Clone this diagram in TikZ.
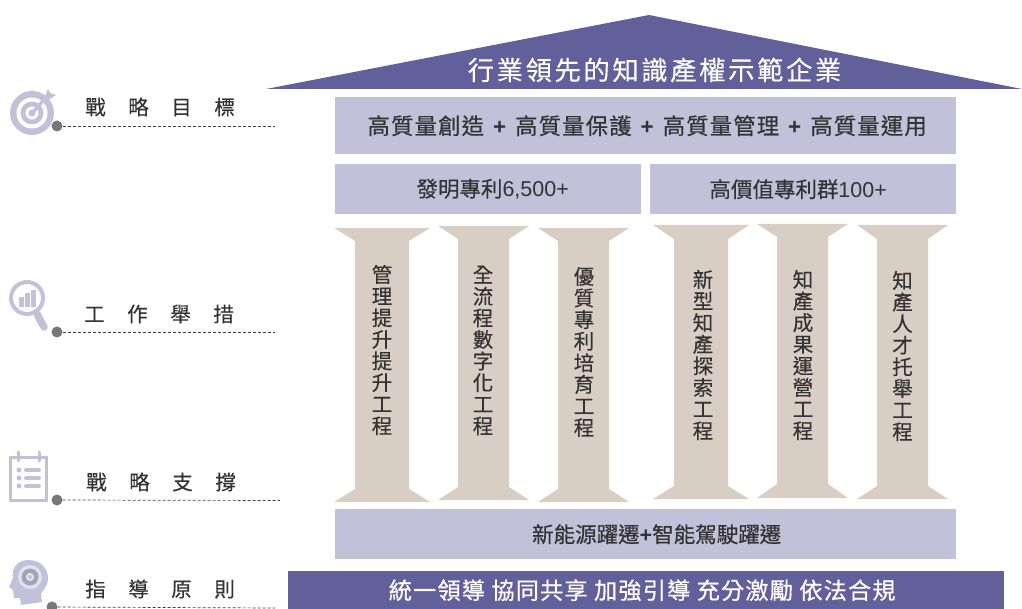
\documentclass[tikz,border=0pt]{standalone}
\usepackage{fontspec}
\setmainfont{Noto Sans CJK TC}
\newfontfamily\lat{Liberation Sans}
\newfontfamily\lspA[LetterSpace=10,FakeBold=0.25]{Noto Sans CJK TC}
\newfontfamily\lspB[LetterSpace=110,FakeBold=0.3]{Noto Sans CJK TC}
\newfontfamily\lspC[LetterSpace=5,FakeBold=0.5]{Noto Sans CJK TC}
\newfontfamily\plainb[FakeBold=0.3]{Noto Sans CJK TC}
\newfontfamily\heavy[FakeBold=0.6]{Noto Sans CJK TC}
\definecolor{roof}{HTML}{62609A}
\definecolor{lite}{HTML}{C3C1DA}
\definecolor{pill}{HTML}{D9CEC3}
\definecolor{ink}{HTML}{333333}
\definecolor{dotc}{HTML}{77767B}
\tikzset{
  x=1pt,y=-1pt,
  band/.style={fill=lite,draw=none,inner sep=0pt,anchor=north west,text=ink},
  darkband/.style={fill=roof,draw=none},
  pillarshape/.style={fill=pill,draw=none},
  pillartext/.style={text=ink,align=center,inner sep=0pt,font=\fontsize{20.5}{21.6}\plainb},
  tag/.style={text=ink,inner sep=0pt,font=\fontsize{20.5}{22}\lspB},
  leader/.style={draw=black!75,line width=0.7pt,dash pattern=on 3pt off 2pt},
  pin/.style={circle,fill=dotc,inner sep=0pt,minimum size=11pt},
  icon/.style={lite}
}
\newcommand{\pillar}[8]{% xl xr sl sr top ntop nbot bot
  \fill[pillarshape] (#1,#5) -- (#2,#5) -- (#4,#6) -- (#4,#7) -- (#2,#8) -- (#1,#8) -- (#3,#7) -- (#3,#6) -- cycle;
}
\newcommand{\plusb}[1]{\hspace{9pt}{\lat\bfseries +}\hspace{9pt}#1}
\begin{document}
\begin{tikzpicture}
\useasboundingbox (0,0) rectangle (1022,609);
\clip (0,0) rectangle (1022,609);
% roof
\fill[darkband] (266,89) -- (649,15) -- (1022,89) -- cycle;
\node[text=white,inner sep=0pt,font=\fontsize{26.3}{30}\lspA] (title) at (654.5,70) {行業領先的知識產權示範企業};
% boxes
\node[band,minimum width=621pt,minimum height=57pt,font=\fontsize{22.4}{24}\lspC] (goal) at (335,97) {\hspace{3pt}\raisebox{-1.5pt}{高質量創造\plusb{高質量保護}\plusb{高質量管理}\plusb{高質量運用}}};
\node[band,minimum width=306pt,minimum height=50pt,font=\fontsize{21.5}{24}\plainb] (patA) at (335,164) {\hspace{9pt}發明專利{\lat 6,500+}};
\node[band,minimum width=306pt,minimum height=50pt,font=\fontsize{21.5}{24}\plainb] (patB) at (650,164) {高價值專利群{\lat 100+}\kern10pt};
\node[band,minimum width=621pt,minimum height=50pt,font=\fontsize{21.5}{24}\heavy] (base) at (335,509) {\hspace{22pt}\raisebox{-1pt}{新能源躍遷{\lat\bfseries +}智能駕駛躍遷}};
\node[darkband,minimum width=716pt,minimum height=38pt,inner sep=0pt,anchor=north west,text=white,font=\fontsize{23.2}{24}\lspC] (rule) at (288,571) {統一領導 協同共享 加強引導 充分激勵 依法合規\kern8pt};
% pillars
\pillar{334}{430}{355}{409}{228}{241}{489}{502}
\pillar{438}{529}{458}{509}{226}{239}{487}{500}
\pillar{538}{629}{558}{609}{228}{241}{489}{502}
\pillar{653}{749}{674}{728}{225}{239}{486}{499}
\pillar{757}{848}{777}{828}{224}{237}{484}{498}
\pillar{857}{948}{877}{928}{225}{239}{486}{499}
\node[pillartext] (p1) at (382,350) {管\\理\\提\\升\\提\\升\\工\\程};
\node[pillartext] (p2) at (483,350.5) {全\\流\\程\\數\\字\\化\\工\\程};
\node[pillartext] (p3) at (584,352) {優\\質\\專\\利\\培\\育\\工\\程};
\node[pillartext] (p4) at (703,355) {新\\型\\知\\產\\探\\索\\工\\程};
\node[pillartext] (p5) at (803,355) {知\\產\\成\\果\\運\\營\\工\\程};
\node[pillartext] (p6) at (902.5,356) {知\\產\\人\\才\\托\\舉\\工\\程};
% tags
\node[tag,anchor=west] (t1) at (85,107) {戰略目標};
\node[tag,anchor=west] (t2) at (84,314) {工作舉措};
\node[tag,anchor=west] (t3) at (86,482) {戰略支撐};
\node[tag,anchor=west] (t4) at (85,589) {指導原則};
% leaders
\node[pin] (d1) at (57,126) {};
\node[pin] (d2) at (57,332) {};
\node[pin] (d3) at (57,500) {};
\node[pin] (d4) at (52,607) {};
\coordinate (e1) at (275,126);
\coordinate (e2) at (275,332);
\coordinate (e3) at (280,500.5);
\coordinate (e4) at (275,608);
\draw[leader] (d1) -- (e1);
\draw[leader] (d2) -- (e2);
\draw[leader] (d3) -- (e3);
\draw[leader] (d4) -- (e4);
% target icon
\fill[icon] (32,113) circle (22);
\fill[white] (32,113) circle (15.5);
\fill[icon] (32,113) circle (11.5);
\fill[white] (32,113) circle (6.5);
\fill[icon] (32,113) circle (3.5);
\fill[icon] (30,113) -- (45,96) -- (48,89) -- (50,93) -- (56,95) -- (50,99) -- (44,102) -- (33,115) -- cycle;
% magnifier icon
\draw[icon,line width=4pt] (27,298) circle (16);
\draw[icon,line width=7.5pt,line cap=round] (37,314) -- (44,327);
\fill[icon] (19,297) rectangle (24,307);
\fill[icon] (25,293) rectangle (30,307);
\fill[icon] (31,290) rectangle (36,307);
% calendar icon
\draw[icon,line width=3pt] (10.5,457.5) rectangle (46.5,500);
\draw[icon,line width=3pt,line cap=round] (18,452) -- (18,461);
\draw[icon,line width=3pt,line cap=round] (39,452) -- (39,461);
\foreach \yy in {470,478,486}{
  \fill[icon] (19,\yy) circle (2.5);
  \draw[icon,line width=4pt,line cap=round] (26,\yy) -- (39,\yy);
}
% head icon
\fill[icon] (28,560) .. controls (40,560) and (48,568) .. (48,578) .. controls (48,586) and (43,590) .. (41,594) -- (42,602) -- (21,605) -- (20,598) -- (14,598) -- (13,590) -- (9,587) -- (13,578) .. controls (11,568) and (18,560) .. (28,560) -- cycle;
\fill[white!50!lite] (30,577) circle (12);
\fill[lite!85!black] (30,577) circle (8.5);
\fill[white!60!lite] (30,577) circle (4);
\fill[lite] (30,577) circle (2);
\end{tikzpicture}
\end{document}
